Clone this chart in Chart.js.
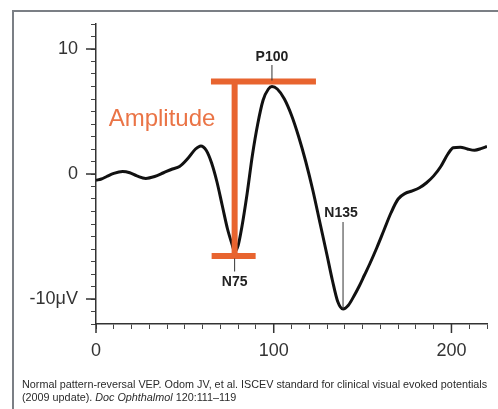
<!DOCTYPE html>
<html>
<head>
<meta charset="utf-8">
<script src="https://cdn.jsdelivr.net/npm/chart.js@4/dist/chart.umd.min.js"></script>
<style>
    body { margin: 0; background: #fff; }
    #wrap { position: relative; width: 498px; height: 409px; overflow: hidden; }
    #frame { position: absolute; left: 12px; top: 10px; width: 600px; height: 500px;
        border-top: 2px solid #7b7f85; border-left: 2px solid #7b7f85; }
    canvas { position: absolute; left: 0; top: 0; }
    #caption { position: absolute; left: 22px; top: 378px; font: 10.8px "Liberation Sans", Arial, sans-serif;
        color: #2a2a2a; line-height: 13px; white-space: nowrap; }
</style>
</head>
<body>
<div id="wrap">
    <div id="frame"></div>
    <canvas id="myChart" width="498" height="409"></canvas>
    <div id="caption">Normal pattern-reversal VEP. Odom JV, et al. ISCEV standard for clinical visual evoked potentials<br>(2009 update). <i>Doc Ophthalmol</i> 120:111–119</div>
</div>
<script>
// VEP trace, time in ms and amplitude in microvolts
const timeMs = [0, 3, 6, 10, 15, 19, 23, 28, 33, 38, 43, 47, 52, 56, 59, 62, 65, 68, 71, 74, 76.5, 78,
    80, 82, 85, 88, 91, 94, 97, 99, 102, 106, 110, 114, 118, 122, 126, 130, 133, 136, 139, 142,
    145, 148, 151, 154, 158, 162, 166, 170, 174, 178, 182, 186, 190, 194, 198, 201, 205, 209, 213, 217, 220];
const microvolts = [-0.5, -0.4, -0.2, 0.05, 0.2, 0.1, -0.15, -0.35, -0.2, 0.1, 0.4, 0.6, 1.3, 2.0, 2.25, 1.9, 0.9, -0.6, -2.5, -4.4, -5.6, -6.2,
    -5.7, -4.3, -1.6, 1.5, 4.0, 5.9, 6.8, 7.0, 6.8, 6.0, 4.7, 3.0, 1.0, -1.3, -3.9, -6.5, -8.5, -10.2, -10.8, -10.5,
    -9.8, -9.0, -8.1, -7.2, -5.9, -4.5, -3.1, -2.0, -1.55, -1.35, -1.1, -0.7, -0.15, 0.6, 1.6, 2.1, 2.15, 2.0, 1.9, 2.05, 2.2];

// labelled components
const peakNames = ['N75', 'P100', 'N135'];
const peakTimes = [78, 99, 139];
const peakValues = [-6.2, 7.0, -10.8];

const xTickLabels = { 0: '0', 100: '100', 200: '200' };
const yTickLabels = { 10: '10', 0: '0', '-10': '-10μV' };

const orange = '#e8642f';
const ink = '#222';

const points = timeMs.map((t, i) => ({ x: t, y: microvolts[i] }));

const annotations = {
    id: 'annotations',
    afterDatasetsDraw(chart) {
        const c = chart.ctx;
        const xs = chart.scales.x;
        const ys = chart.scales.y;
        const px = peakTimes.map(t => xs.getPixelForValue(t));
        const py = peakValues.map(v => ys.getPixelForValue(v));

        // amplitude bracket from N75 to P100
        c.save();
        c.strokeStyle = orange;
        c.lineWidth = 6;
        c.beginPath();
        c.moveTo(px[1] - 61, py[1] - 5);
        c.lineTo(px[1] + 44, py[1] - 5);
        c.moveTo(px[0], py[1] - 5);
        c.lineTo(px[0], py[0] + 4.5);
        c.moveTo(px[0] - 23, py[0] + 4.5);
        c.lineTo(px[0] + 21, py[0] + 4.5);
        c.stroke();

        c.fillStyle = '#ea7446';
        c.font = '24px "Liberation Sans", Arial, sans-serif';
        c.textAlign = 'center';
        c.textBaseline = 'middle';
        c.fillText('Amplitude', 162, 119);

        // peak labels with leader lines
        c.strokeStyle = '#333';
        c.lineWidth = 1;
        c.fillStyle = ink;
        c.font = 'bold 14px "Liberation Sans", Arial, sans-serif';
        c.beginPath();
        c.moveTo(px[1], 65); c.lineTo(px[1], py[1] - 6);
        c.moveTo(px[0], py[0] + 7); c.lineTo(px[0], py[0] + 20);
        c.moveTo(px[2], py[2] - 87); c.lineTo(px[2], py[2]);
        c.stroke();
        c.fillText(peakNames[0], px[0], py[0] + 31);
        c.fillText(peakNames[1], px[1], 57);
        c.fillText(peakNames[2], px[2] - 2, py[2] - 96);

        // longer marks at the labelled ticks
        c.strokeStyle = '#333';
        c.lineWidth = 1.5;
        c.beginPath();
        Object.keys(yTickLabels).forEach(v => {
            const y = ys.getPixelForValue(Number(v));
            c.moveTo(xs.left - 10, y); c.lineTo(xs.left, y);
        });
        Object.keys(xTickLabels).forEach(v => {
            const x = xs.getPixelForValue(Number(v));
            c.moveTo(x, ys.bottom); c.lineTo(x, ys.bottom + 9);
        });
        c.stroke();
        c.restore();
    }
};

var ctx = document.getElementById('myChart').getContext('2d');

var chart = new Chart(ctx, {
    type: 'line',
    data: {
        datasets: [
            {
                data: points,
                borderColor: '#111',
                borderWidth: 3,
                pointRadius: 0,
                tension: 0.4,
                cubicInterpolationMode: 'monotone',
            }
        ]
    },
    options: {
        responsive: false,
        animation: false,
        layout: { padding: { top: 24, right: 6, left: 0, bottom: 0 } },
        plugins: { legend: { display: false }, tooltip: { enabled: false } },
        scales: {
            x: {
                type: 'linear',
                min: 0,
                max: 220,
                afterFit: (scale) => { scale.height = 85; },
                border: { color: '#333', width: 1.5 },
                grid: { drawOnChartArea: false, tickLength: 5, color: '#444' },
                ticks: {
                    stepSize: 10,
                    autoSkip: false,
                    maxRotation: 0,
                    padding: 11,
                    color: '#333',
                    font: { size: 18, family: '"Liberation Sans", Arial, sans-serif' },
                    callback: (v) => xTickLabels[v] || '',
                }
            },
            y: {
                min: -12,
                max: 12,
                afterFit: (scale) => { scale.width = 96; },
                border: { color: '#333', width: 1.5 },
                grid: { drawOnChartArea: false, tickLength: 5, color: '#444' },
                ticks: {
                    stepSize: 1,
                    autoSkip: false,
                    padding: 13,
                    color: '#333',
                    font: { size: 18, family: '"Liberation Sans", Arial, sans-serif' },
                    callback: (v) => yTickLabels[v] || '',
                }
            }
        }
    },
    plugins: [annotations]
});
</script>
</body>
</html>
